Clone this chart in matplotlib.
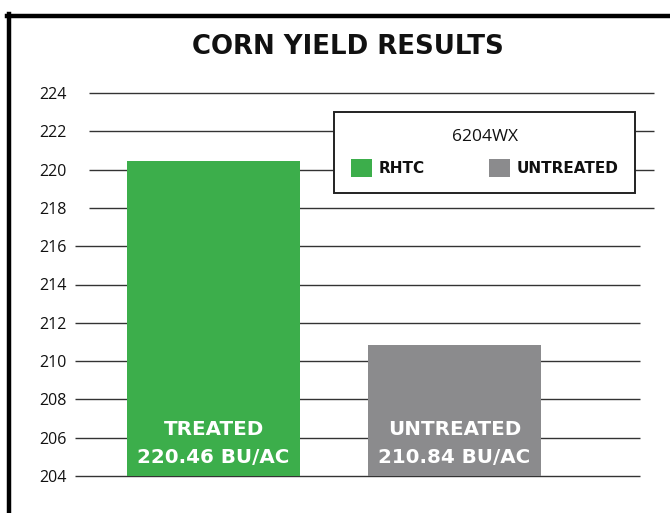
import matplotlib.pyplot as plt
from matplotlib.patches import Patch
from matplotlib.lines import Line2D

# Yield data
categories = ['TREATED', 'UNTREATED']
yields = [220.46, 210.84]
bar_colors = ['#3cae4b', '#8b8b8d']
legend_labels = ['RHTC', 'UNTREATED']
legend_title = '6204WX'
y_ticks = list(range(204, 225, 2))

plt.rcParams['font.family'] = ['Open Sans', 'DejaVu Sans']
BOLD = ['DejaVu Sans']

fig = plt.figure(figsize=(6.7, 5.13), dpi=100)
ax = fig.add_axes([75 / 670, 37 / 513, 579 / 670, 383 / 513])

base = y_ticks[0]
x = list(range(len(categories)))
ax.bar(x, [v - base for v in yields], bottom=base, width=0.718,
       color=bar_colors, zorder=3)

ax.set_ylim(y_ticks[0], y_ticks[-1])
ax.set_xlim(-0.575, 1.828)

# horizontal rules, upper ones shifted right a little
trans = ax.get_yaxis_transform()
for t in y_ticks:
    if t >= 218:
        ax.hlines(t, 0.024, 1.0, transform=trans, color='#333333', lw=1.0,
                  zorder=1, clip_on=False)
    else:
        ax.hlines(t, 0.0, 0.976, transform=trans, color='#333333', lw=1.0,
                  zorder=1, clip_on=False)

ax.set_yticks(y_ticks)
ax.set_yticklabels([str(t) for t in y_ticks])
ax.tick_params(axis='y', length=0, pad=5.8, labelsize=11.5, labelcolor='#111111')
ax.set_xticks([])
for s in ax.spines.values():
    s.set_visible(False)

# labels inside the bars
for xi, name, v in zip(x, categories, yields):
    ax.annotate(name, (xi, base), xytext=(0, 41), textcoords='offset pixels',
                ha='center', va='baseline', color='white', fontsize=14.3,
                fontweight='bold', family=BOLD, zorder=4)
    ax.annotate(f'{v:.2f} BU/AC', (xi, base), xytext=(0, 13), textcoords='offset pixels',
                ha='center', va='baseline', color='white', fontsize=14.3,
                fontweight='bold', family=BOLD, zorder=4)

fig.text(348 / 670, 1 - 47 / 513, 'CORN YIELD RESULTS', ha='center', va='center',
         fontsize=18.7, fontweight='bold', family=BOLD, color='#111111')

handles = [Patch(facecolor=c, edgecolor='none') for c in bar_colors]
leg = ax.legend(handles, legend_labels, title=legend_title, ncol=2,
                loc='upper left', bbox_to_anchor=(334 / 670, 1 - 112 / 513),
                bbox_transform=fig.transFigure, borderaxespad=0,
                frameon=True, fancybox=False, edgecolor='#222222', framealpha=1,
                fontsize=11, title_fontsize=12.5, borderpad=1.1,
                labelspacing=0.95, handlelength=1.37, handleheight=1.37,
                handletextpad=0.45, columnspacing=4.2)
leg.get_frame().set_linewidth(1.4)
leg.set_zorder(5)
for txt in leg.get_texts():
    txt.set_fontweight('bold')
    txt.set_family(BOLD)
    txt.set_color('#111111')
leg.get_title().set_color('#111111')

# heavy frame at top and left
fig.add_artist(Line2D([7 / 670, 1.0], [1 - 16 / 513, 1 - 16 / 513],
                      transform=fig.transFigure, color='black', lw=3.2))
fig.add_artist(Line2D([9 / 670, 9 / 670], [0, 1 - 14 / 513],
                      transform=fig.transFigure, color='black', lw=3.2))

fig.savefig('out.png', dpi=100)
